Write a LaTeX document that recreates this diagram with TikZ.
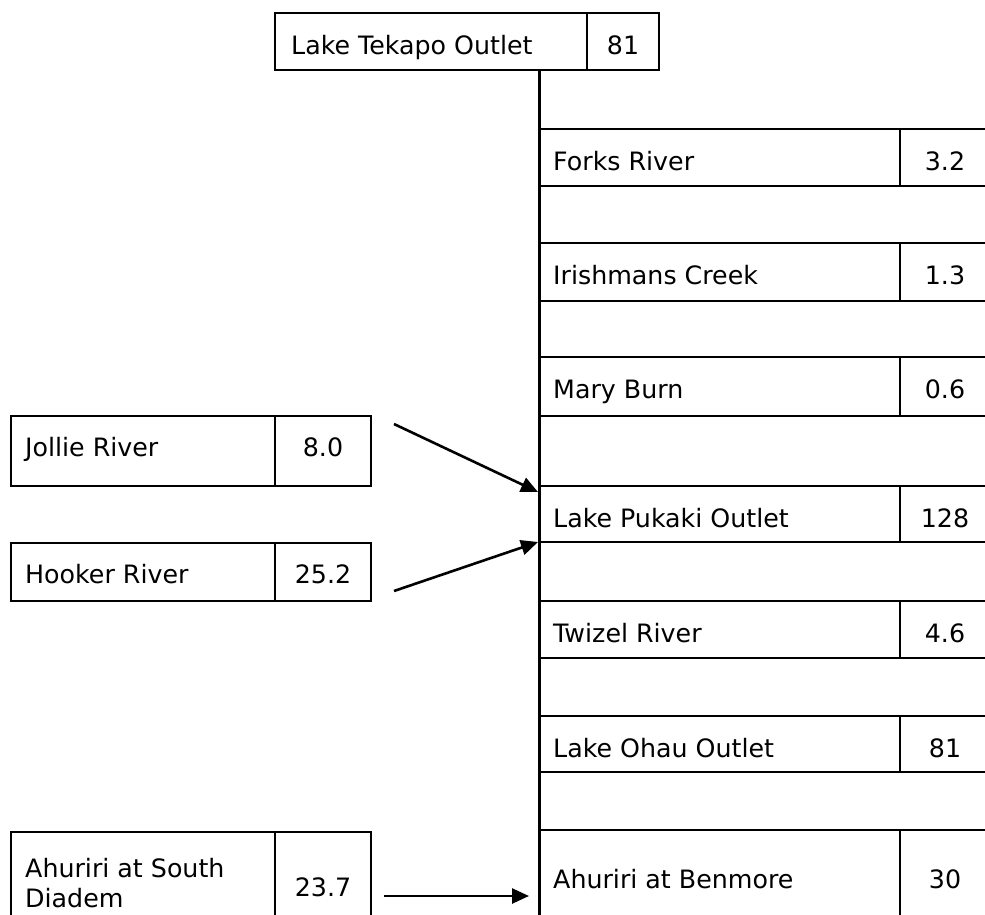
\documentclass[tikz,border=0pt]{standalone}
\usepackage{fontspec}
\setmainfont{DejaVu Sans}
\usetikzlibrary{arrows.meta,calc}
\begin{document}
\begin{tikzpicture}[x=1pt,y=-1pt,
  cell/.style={draw,line width=2.7pt,rectangle,inner sep=0pt,outer sep=0pt,anchor=north west},
  txt/.style={inner sep=0pt,anchor=base west,font=\fontsize{25.3}{30.5}\selectfont},
  num/.style={inner sep=0pt,anchor=base,font=\fontsize{25.3}{30.5}\selectfont},
  flow/.style={line width=2.6pt,-{Triangle[length=17pt,width=15pt]}},
  trunk/.style={line width=3pt}]
\useasboundingbox (0,0) rectangle (985,915);
\clip (0,0) rectangle (985,915);

% top box
\node[cell,minimum width=312pt,minimum height=57pt] (tek) at (275,13) {};
\node[cell,minimum width=72pt,minimum height=57pt] (tekn) at (587,13) {};
\node[txt] (tekt) at ($(tek.north west)+(16,42)$) {Lake Tekapo Outlet};
\node[num] (tekv) at ($(tekn.north)+(0,42)$) {81};

% trunk
\coordinate (trunktop) at (539,70);
\coordinate (trunkbot) at (539,960);
\draw[trunk] (trunktop) -- (trunkbot);

% right column rows
\foreach \nm/\ty/\h/\lab/\val in {
  forks/129/57/Forks River/3.2,
  irish/243/58/Irishmans Creek/1.3,
  mary/357/59/Mary Burn/0.6,
  pukaki/486/56/Lake Pukaki Outlet/128,
  twizel/601/57/Twizel River/4.6,
  ohau/716/56/Lake Ohau Outlet/81}{
  \node[cell,minimum width=361pt,minimum height=\h pt] (\nm) at (539,\ty) {};
  \node[cell,minimum width=100pt,minimum height=\h pt] (\nm n) at (900,\ty) {};
  \node[txt] (\nm t) at ($(\nm.north west)+(14,41)$) {\lab};
  \node[num] (\nm v) at ($(\nm n.north west)+(45,41)$) {\val};
}
\node[cell,minimum width=361pt,minimum height=130pt] (benmore) at (539,830) {};
\node[cell,minimum width=100pt,minimum height=130pt] (benmoren) at (900,830) {};
\node[txt] (benmoret) at ($(benmore.north west)+(14,58)$) {Ahuriri at Benmore};
\node[num] (benmorev) at ($(benmoren.north west)+(45,58)$) {30};

% left boxes
\node[cell,minimum width=264pt,minimum height=70pt] (jollie) at (11,416) {};
\node[cell,minimum width=96pt,minimum height=70pt] (jollien) at (275,416) {};
\node[txt] (jolliet) at ($(jollie.north west)+(14,40)$) {Jollie River};
\node[num] (jolliev) at ($(jollien.north)+(0,40)$) {8.0};

\node[cell,minimum width=264pt,minimum height=58pt] (hooker) at (11,543) {};
\node[cell,minimum width=96pt,minimum height=58pt] (hookern) at (275,543) {};
\node[txt] (hookert) at ($(hooker.north west)+(14,40)$) {Hooker River};
\node[num] (hookerv) at ($(hookern.north)+(0,40)$) {25.2};

\node[cell,minimum width=264pt,minimum height=130pt] (diadem) at (11,832) {};
\node[cell,minimum width=96pt,minimum height=130pt] (diademn) at (275,832) {};
\node[txt] (diademt1) at ($(diadem.north west)+(14,45)$) {Ahuriri at South};
\node[txt] (diademt2) at ($(diadem.north west)+(14,75)$) {Diadem};
\node[num] (diademv) at ($(diademn.north)+(0,64)$) {23.7};

% arrows
\coordinate (ja) at ($(jollien.north east)+(23,8)$);
\coordinate (jb) at ($(pukaki.north west)+(-1,6)$);
\draw[flow] (ja) -- (jb);
\coordinate (ha) at ($(hookern.south east)+(23,-10)$);
\coordinate (hb) at ($(pukaki.south west)+(-1,0)$);
\draw[flow] (ha) -- (hb);
\coordinate (da) at ($(diademn.north east)+(13,64)$);
\coordinate (db) at ($(benmore.north west)+(-10,66)$);
\draw[flow] (da) -- (db);
\end{tikzpicture}
\end{document}
